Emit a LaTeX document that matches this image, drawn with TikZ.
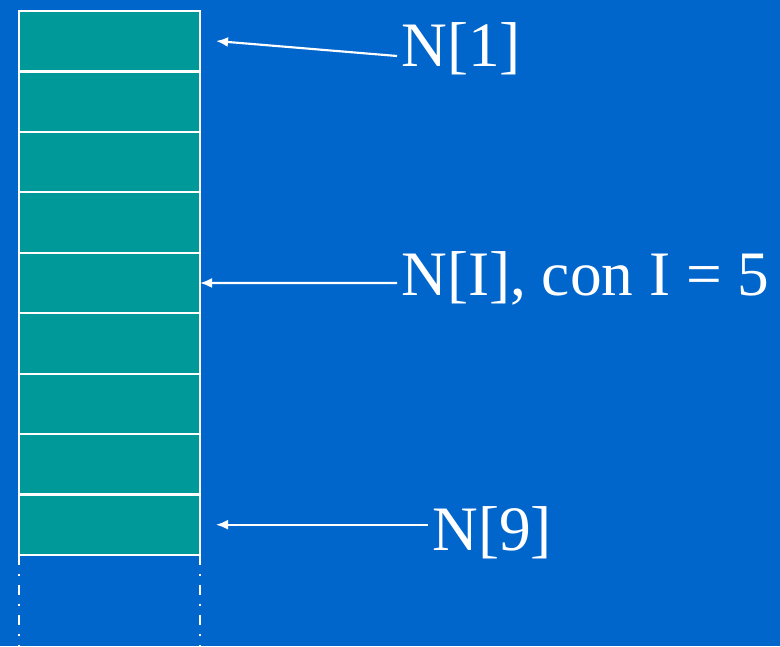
\documentclass[tikz,border=0pt]{standalone}
\usepackage{fontspec}
\setmainfont{Liberation Serif}
\usetikzlibrary{arrows.meta}
\definecolor{bg}{HTML}{0066CC}
\definecolor{cellfill}{HTML}{009999}
\begin{document}
\begin{tikzpicture}[x=0.75pt,y=-0.75pt,
  cellbox/.style={draw=white,line width=1.6pt,fill=cellfill,minimum width=135.75pt,minimum height=45.33pt,inner sep=0pt,outer sep=0pt},
  lbl/.style={anchor=base west,inner sep=0pt,text=white,font=\fontsize{47.5}{56}\selectfont},
  arr/.style={draw=white,line width=1.6pt,-{Latex[length=9pt,width=7.5pt]}},
  dashdotline/.style={draw=white,line width=1.6pt,dash pattern=on 7.5pt off 6.75pt on 1.5pt off 6.75pt}]
\fill[bg] (0,0) rectangle (780,646);
\useasboundingbox (0,0) rectangle (780,646);
\foreach \i in {1,...,9}{
  \node[cellbox] (c\i) at (109.5,{11+60.44*(\i-0.5)}) {};
}
\coordinate (d1) at (19,650);
\coordinate (d2) at (200,650);
\draw[dashdotline] (c9.south west) -- (d1);
\draw[dashdotline] (c9.south east) -- (d2);
\node[lbl] (l1) at (401,66) {N[1]};
\node[lbl] (l2) at (401,295) {N[I], con I = 5};
\node[lbl] (l3) at (432,550) {N[9]};
\coordinate (s1) at (397,56);
\coordinate (t1) at (216,41);
\coordinate (s2) at (397,283);
\coordinate (s3) at (428,524.7);
\coordinate (t3) at (216,524.7);
\draw[arr] (s1) -- (t1);
\draw[arr] (s2) -- (c5.east);
\draw[arr] (s3) -- (t3);
\end{tikzpicture}
\end{document}
